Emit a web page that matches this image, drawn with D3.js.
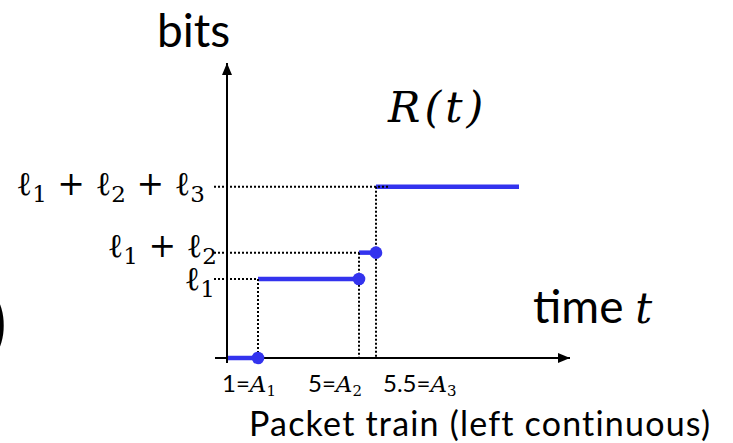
<!DOCTYPE html>
<html>
<head>
<meta charset="utf-8">
<script src="https://cdn.jsdelivr.net/npm/d3@7"></script>
<style>
  body { margin: 0; background: #fff; }
  svg { display: block; }
  .sans { font-family: Lato, 'Open Sans', sans-serif; fill: #000; }
  .math { font-family: 'DejaVu Serif', 'Liberation Serif', serif; fill: #000; }
</style>
</head>
<body>
<div id="chart"></div>
<script>
// packet arrival times and packet lengths (bits, arbitrary units)
const arrivals = [1, 5, 5.5]
const lengths = [3, 1, 2.5]
const tEnd = 10
const tickNumbers = ['1', '5', '5.5']

const WIDTH = 733
const HEIGHT = 443
const BLUE = '#3333ee'

const cum = Array.from(d3.cumsum(lengths))
const levels = [0, ...cum]
const breaks = [0, ...arrivals, tEnd]

const svg = d3.select('#chart')
  .append('svg')
  .attr('width', WIDTH)
  .attr('height', HEIGHT)

// schematic (piecewise) time axis
const x = d3.scaleLinear()
  .domain(breaks)
  .range([227, 258, 359, 376, 519])
const y = d3.scaleLinear()
  .domain([0, 11.2])
  .range([358, 63])

const defs = svg.append('defs')
defs.append('marker')
  .attr('id', 'arrow')
  .attr('viewBox', '0 0 12 10')
  .attr('refX', 12)
  .attr('refY', 5)
  .attr('markerWidth', 12)
  .attr('markerHeight', 10)
  .attr('markerUnits', 'userSpaceOnUse')
  .attr('orient', 'auto')
  .append('path')
  .attr('d', 'M0,0L12,5L0,10Z')
  .attr('fill', '#000')

// axes
svg.append('line')
  .attr('x1', 215).attr('x2', 570)
  .attr('y1', y(0)).attr('y2', y(0))
  .attr('stroke', '#000').attr('stroke-width', 2)
  .attr('marker-end', 'url(#arrow)')
svg.append('line')
  .attr('x1', x(0)).attr('x2', x(0))
  .attr('y1', y(0) + 5).attr('y2', y(11.2))
  .attr('stroke', '#000').attr('stroke-width', 2)
  .attr('marker-end', 'url(#arrow)')

// step function R(t), left continuous
const segs = d3.range(breaks.length - 1).map(i => ({
  x0: breaks[i], x1: breaks[i + 1], v: levels[i], dot: i < arrivals.length
}))
svg.selectAll('.seg')
  .data(segs)
  .enter()
  .append('line')
  .attr('class', 'seg')
  .attr('x1', d => x(d.x0) + (d.x0 === 0 ? 1 : 0))
  .attr('x2', d => x(d.x1))
  .attr('y1', d => y(d.v))
  .attr('y2', d => y(d.v))
  .attr('stroke', BLUE)
  .attr('stroke-width', 4.5)

// dotted guides
const guides = svg.append('g')
  .attr('stroke', '#000')
  .attr('stroke-width', 2)
  .attr('stroke-dasharray', '2,2')
  .attr('fill', 'none')
arrivals.forEach((a, i) => {
  guides.append('line')
    .attr('x1', x(a)).attr('x2', x(a))
    .attr('y1', y(cum[i])).attr('y2', y(0))
  guides.append('line')
    .attr('x1', 214).attr('x2', x(a) + (i === arrivals.length - 1 ? 14 : 0))
    .attr('y1', y(cum[i])).attr('y2', y(cum[i]))
})

svg.selectAll('.dot')
  .data(segs.filter(d => d.dot))
  .enter()
  .append('circle')
  .attr('class', 'dot')
  .attr('cx', d => x(d.x1))
  .attr('cy', d => y(d.v))
  .attr('r', 6.3)
  .attr('fill', BLUE)

// level labels: l1, l1+l2, l1+l2+l3
const labelEnd = [215, 217, 205]
const labelDy = [11, 4, 8]
cum.forEach((c, i) => {
  const t = svg.append('text')
    .attr('class', 'math')
    .attr('text-anchor', 'end')
    .attr('x', labelEnd[i])
    .attr('y', y(c) + labelDy[i])
    .attr('font-size', 33)
  for (let k = 0; k <= i; k++) {
    if (k > 0) t.append('tspan').attr('dy', -7).text(' + ')
    t.append('tspan').text('ℓ')
    t.append('tspan').attr('font-size', 23).attr('dy', 7).text(k + 1)
  }
})

// tick labels under the time axis
const tickDx = [-36, -51, 7]
arrivals.forEach((a, i) => {
  const t = svg.append('text')
    .attr('x', x(a) + tickDx[i])
    .attr('y', 392)
  t.append('tspan').attr('class', 'sans').attr('font-size', 24).text(tickNumbers[i] + '=')
  t.append('tspan').attr('class', 'math').attr('font-style', 'italic').attr('font-size', 23).text('A')
  t.append('tspan').attr('class', 'math').attr('font-size', 15).attr('dy', 4).text(i + 1)
})

// titles
svg.append('text')
  .attr('class', 'sans')
  .attr('x', 157).attr('y', 47)
  .attr('font-size', 46)
  .text('bits')

svg.append('text')
  .attr('class', 'math')
  .attr('x', 388).attr('y', 122)
  .attr('font-size', 43)
  .attr('font-style', 'italic')
  .attr('letter-spacing', 4)
  .text('R(t)')

const tt = svg.append('text')
  .attr('x', 533).attr('y', 323)
tt.append('tspan').attr('class', 'sans').attr('font-size', 46).text('time ')
tt.append('tspan').attr('class', 'math').attr('font-size', 42).attr('font-style', 'italic').text('t')

svg.append('text')
  .attr('class', 'sans')
  .attr('x', 249).attr('y', 436)
  .attr('font-size', 34)
  .attr('letter-spacing', 1.2)
  .text('Packet train (left continuous)')

// clipped glyph at the left edge of the slide
svg.append('text')
  .attr('class', 'sans')
  .attr('text-anchor', 'end')
  .attr('x', 7).attr('y', 348)
  .attr('font-size', 72)
  .text(')')
</script>
</body>
</html>
